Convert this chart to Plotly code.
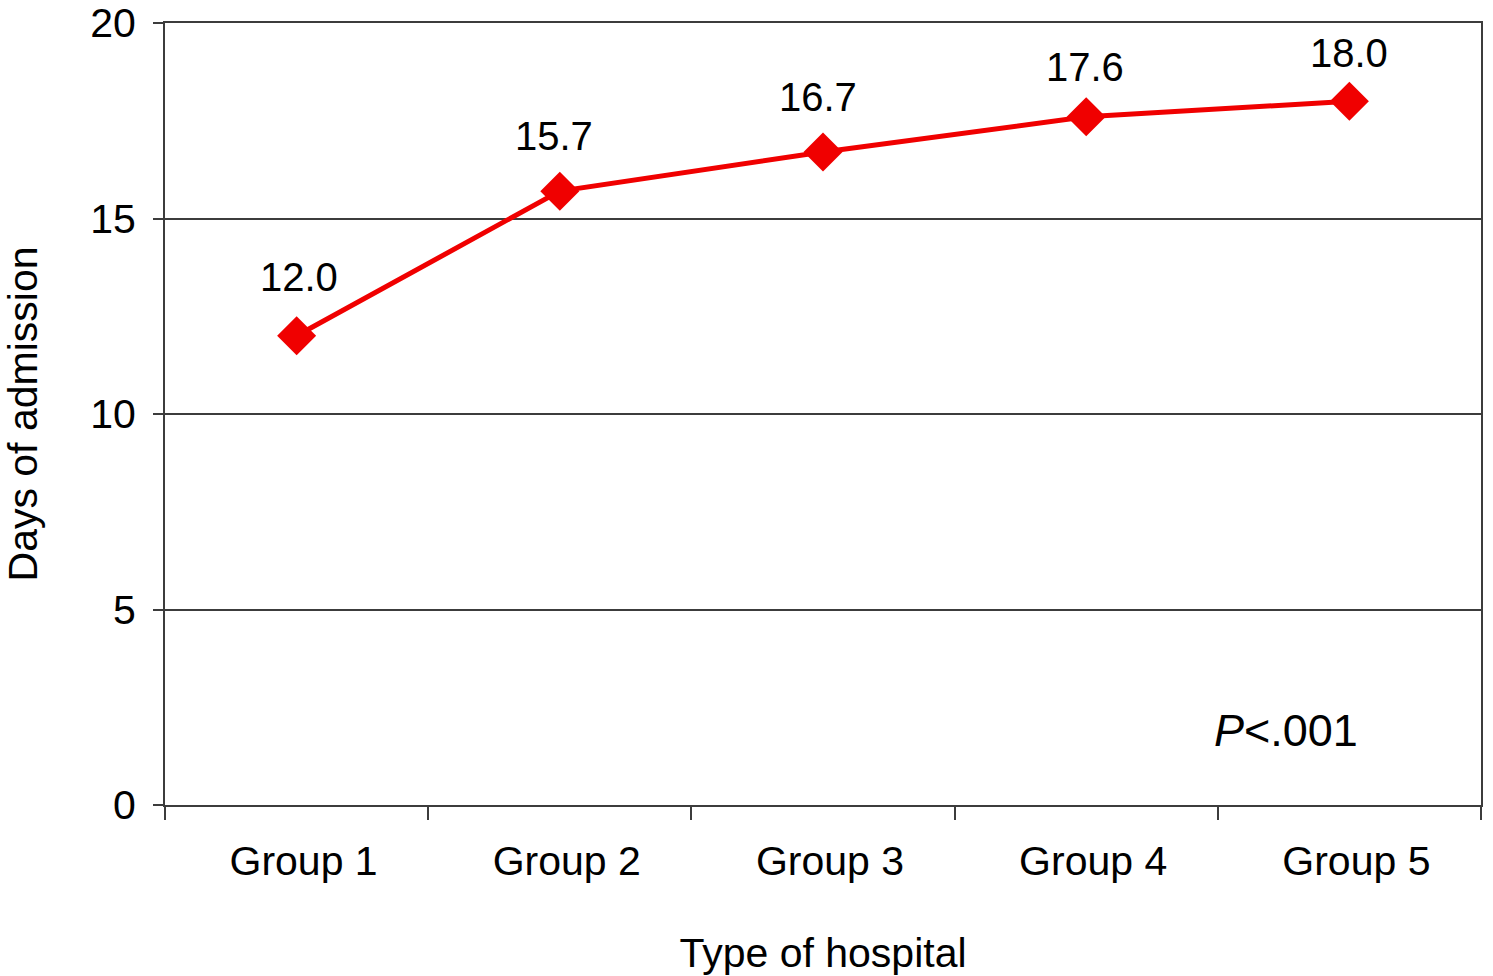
import plotly.graph_objects as go

categories = ["Group 1", "Group 2", "Group 3", "Group 4", "Group 5"]
days = [12.0, 15.7, 16.7, 17.6, 18.0]
labels = ["12.0", "15.7", "16.7", "17.6", "18.0"]
y_ticks = [0, 5, 10, 15, 20]

# label placement (styling only)
label_yshift = [59, 55, 55, 50, 48]
label_xshift = [2, -6, -5, -1, 0]

FONT = "Liberation Sans, Arial, Helvetica, sans-serif"
RED = "#f00000"
GRID = "#3c3c3c"
FS = 41

fig = go.Figure()
fig.add_trace(go.Scatter(
    x=categories, y=days, mode="lines+markers",
    line=dict(color=RED, width=5),
    marker=dict(symbol="diamond", size=30, color=RED),
    showlegend=False, hoverinfo="skip",
))

for c, v, t, ys, xs in zip(categories, days, labels, label_yshift, label_xshift):
    fig.add_annotation(x=c, y=v, text=t, showarrow=False, yshift=ys, xshift=xs,
                       font=dict(size=40, color="black", family=FONT))

fig.add_annotation(xref="paper", x=(1286 - 165) / 1316, yref="y", y=1.9, xanchor="center",
                   text="<i>P</i><.001", showarrow=False,
                   font=dict(size=45, color="black", family=FONT))

fig.update_layout(
    width=1493, height=976,
    margin=dict(l=165, r=12, t=23, b=171),
    paper_bgcolor="white", plot_bgcolor="white",
    font=dict(family=FONT, size=FS, color="black"),
    xaxis=dict(
        type="category", range=[-0.5, 4.5], automargin=False,
        showline=True, linecolor=GRID, linewidth=2, mirror=True,
        ticks="outside", ticklen=13, tickwidth=2, tickcolor=GRID,
        tickson="boundaries", showgrid=False,
        tickfont=dict(size=FS, family=FONT),
        ticklabelstandoff=19, ticklabelshift=7,
        title=dict(text="Type of hospital", font=dict(size=FS, family=FONT), standoff=64),
    ),
    yaxis=dict(
        range=[0, 20], tickvals=y_ticks, automargin=False,
        showline=True, linecolor=GRID, linewidth=2, mirror=True,
        ticks="outside", ticklen=10, tickwidth=2, tickcolor=GRID,
        showgrid=True, gridcolor=GRID, gridwidth=2,
        zeroline=False, ticklabeloverflow="allow",
        tickfont=dict(size=FS, family=FONT),
        ticklabelstandoff=9,
        title=dict(text="Days of admission", font=dict(size=FS, family=FONT), standoff=54),
    ),
)

fig.write_html("out.html", config={"displayModeBar": False},
               post_script="document.body.style.margin='0px';")
